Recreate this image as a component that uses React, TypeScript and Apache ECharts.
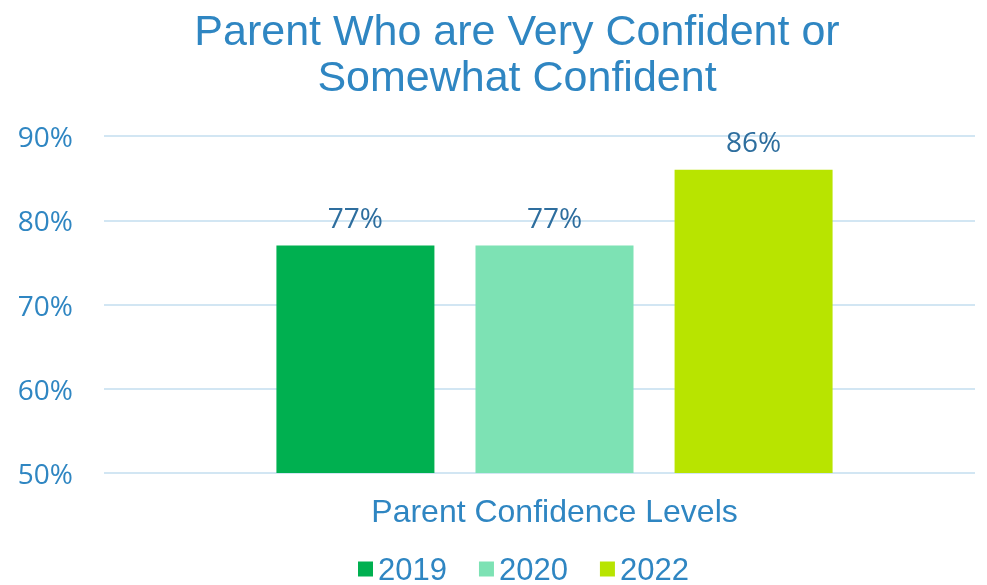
import React, { useEffect, useRef } from "react";
import * as echarts from "echarts";

const categories = ["Parent Confidence Levels"];
const seriesNames = ["2019", "2020", "2022"];
const seriesValues = [[77], [77], [86]];
const seriesColors = ["#00B050", "#7DE2B4", "#B8E400"];
const yTicks = { min: 50, max: 90, interval: 10 };
const titleLines = ["Parent Who are Very Confident or", "Somewhat Confident"];

export default function App() {
  const ref = useRef<HTMLDivElement>(null);
  useEffect(() => {
    if (!ref.current) return;
    const chart = echarts.init(ref.current, null, { renderer: "svg" });
    const blue = "#2F86C2";
    const labelBlue = "#2E6E9E";
    chart.setOption({
      animation: false,
      title: {
        text: titleLines.join("\n"),
        left: 512,
        textAlign: "center",
        top: 2,
        textStyle: {
          fontFamily: "Liberation Sans",
          fontWeight: "normal",
          fontSize: 43,
          lineHeight: 46,
          color: blue,
        },
      },
      legend: {
        top: 553,
        left: 358,
        padding: 0,
        icon: "rect",
        itemWidth: 15,
        itemHeight: 15,
        itemGap: 32,
        itemTextGap: 9,
        textStyle: { fontFamily: "Liberation Sans", fontSize: 31, lineHeight: 32, color: blue },
        data: seriesNames,
      },
      grid: [
        { left: 134, right: 12, top: 136, bottom: 112 },
        { left: 104, right: 12, top: 136, bottom: 112 },
      ],
      xAxis: [
        {
          type: "category",
          data: categories,
          gridIndex: 0,
          axisLine: { show: false },
          axisTick: { show: false },
          axisLabel: {
            margin: 22,
            fontFamily: "Liberation Sans",
            fontSize: 32,
            color: blue,
          },
        },
        {
          type: "category",
          data: categories,
          gridIndex: 1,
          show: false,
        },
      ],
      yAxis: [
        {
          type: "value",
          gridIndex: 0,
          min: yTicks.min,
          max: yTicks.max,
          interval: yTicks.interval,
          splitLine: { show: false },
          axisLabel: {
            margin: 61,
            fontFamily: "Open Sans",
            fontSize: 28,
            color: blue,
            formatter: (v: number) => v + "%",
          },
        },
        {
          type: "value",
          gridIndex: 1,
          min: yTicks.min,
          max: yTicks.max,
          interval: yTicks.interval,
          axisLabel: { show: false },
          splitLine: { show: true, lineStyle: { color: "#D2E6F3", width: 2 } },
        },
      ],
      series: seriesNames.map((name, i) => ({
        name,
        type: "bar",
        xAxisIndex: 0,
        yAxisIndex: 0,
        data: seriesValues[i],
        barWidth: 158,
        barGap: "26%",
        itemStyle: { color: seriesColors[i] },
        label: {
          show: true,
          position: "top",
          distance: 15,
          formatter: (p: any) => p.value + "%",
          fontFamily: "Open Sans",
          fontSize: 28,
          color: labelBlue,
        },
      })),
    });
    return () => chart.dispose();
  }, []);
  return (
    <div
      ref={ref}
      style={{ position: "fixed", left: 0, top: 0, width: 987, height: 585 }}
    />
  );
}
